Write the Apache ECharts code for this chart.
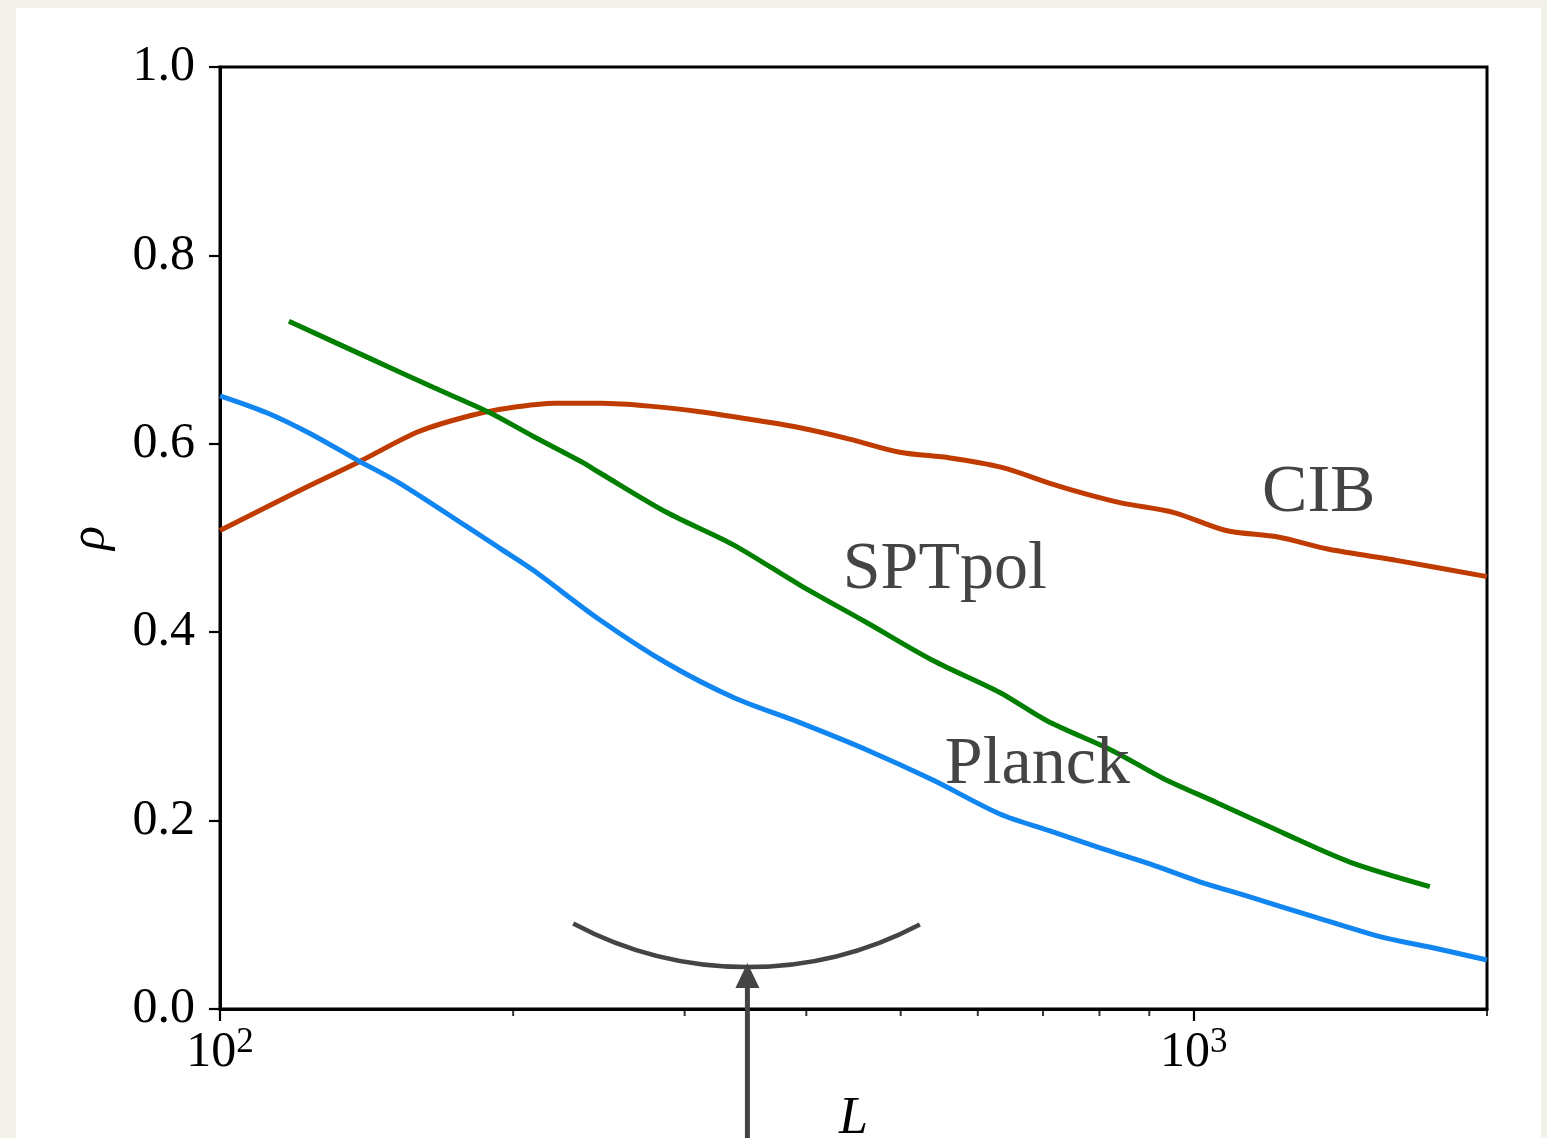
<!DOCTYPE html>
<html>
<head>
<meta charset="utf-8">
<script src="https://cdn.jsdelivr.net/npm/echarts@6/dist/echarts.min.js"></script>
<style>
html,body{margin:0;padding:0;background:#f3f0ea;}
#chart{width:1547px;height:1138px;}
</style>
</head>
<body>
<div id="chart"></div>
<script>
// ---------------- data ----------------
const cibL   = [100,121,139,160,181,198,221,246,276,311,350,394,443,499,562,635,717,779,844,954,1079,1220,1376,1620,2000];
const cibRho = [0.508,0.551,0.581,0.613,0.630,0.638,0.643,0.643,0.640,0.634,0.626,0.617,0.605,0.591,0.585,0.575,0.557,0.546,0.537,0.527,0.508,0.501,0.488,0.476,0.459];

const sptL   = [117.7,141.6,165.5,189.3,209.6,235.9,245.6,287.7,336.3,394.0,461.7,539.6,632.1,706.4,825.9,929.1,1055.9,1234.1,1446.0,1747.0];
const sptRho = [0.730,0.692,0.660,0.633,0.608,0.580,0.569,0.527,0.493,0.450,0.410,0.370,0.336,0.306,0.274,0.245,0.219,0.187,0.156,0.130];

const planckL   = [100,111.7,123.7,138.2,153.0,179.3,193.9,209.6,245.6,287.7,336.3,394.0,461.7,539.6,632.1,711.5,800.9,901.0,1014.3,1141.5,1337.5,1563.7,1759.4,2000];
const planckRho = [0.651,0.633,0.611,0.583,0.558,0.512,0.489,0.466,0.413,0.367,0.331,0.304,0.275,0.243,0.207,0.189,0.171,0.154,0.135,0.119,0.097,0.076,0.065,0.052];

const xMajorTicks = [100, 1000];
const xMinorTicks = [200,300,400,500,600,700,800,900,2000];
const yTicks = [0, 0.2, 0.4, 0.6, 0.8, 1.0];

const curveNames = ['CIB', 'SPTpol', 'Planck'];
// annotation anchors (data coordinates, text baseline-ish)
const textAnchorL   = [1175, 436, 555];
const textAnchorRho = [0.511, 0.430, 0.223];
const arcBottom = [348, 0.0445];
// ---------------------------------------------------------------

const FONT = 'Liberation Serif';
const zip = (a, b) => a.map((v, i) => [v, b[i]]);

const chart = echarts.init(document.getElementById('chart'), null, {renderer: 'canvas'});

const lineSeries = (name, L, R, color) => ({
  name, type: 'line', data: zip(L, R), showSymbol: false, symbol: 'none',
  smooth: 0.3, lineStyle: {color, width: 5}, z: 3, clip: true
});

const option = {
  animation: false,
  backgroundColor: 'transparent',
  grid: {left: 220, top: 67, right: 60, bottom: 129, show: true,
         outerBoundsMode: 'none', containLabel: false,
         borderColor: '#000', borderWidth: 3, backgroundColor: '#fff'},
  xAxis: {
    type: 'log', logBase: 10, min: 100, max: 2000,
    name: 'L', nameLocation: 'middle', nameGap: 84,
    nameTextStyle: {fontFamily: FONT, fontStyle: 'italic', fontSize: 52, color: '#000'},
    axisLine: {show: true, onZero: false, lineStyle: {color: '#000', width: 3}},
    axisTick: {show: true, length: 12, lineStyle: {color: '#000', width: 2.2}},
    splitLine: {show: false},
    minorTick: {show: false},
    axisLabel: {
      showMaxLabel: false, margin: 16, color: '#000', fontFamily: FONT, fontSize: 50,
      formatter: v => {
        const e = Math.round(Math.log10(v));
        if (xMajorTicks.indexOf(v) < 0 && Math.abs(v - Math.pow(10, e)) > 1e-6) return '';
        return '{b|10}{s|' + e + '}';
      },
      rich: {
        b: {fontFamily: FONT, fontSize: 50, color: '#000', lineHeight: 56},
        s: {fontFamily: FONT, fontSize: 35, color: '#000', verticalAlign: 'top', lineHeight: 34}
      }
    }
  },
  yAxis: {
    type: 'value', min: 0, max: 1, interval: 0.2,
    name: 'ρ', nameLocation: 'middle', nameGap: 104, nameRotate: 90,
    nameTextStyle: {fontFamily: FONT, fontStyle: 'italic', fontSize: 50, color: '#000'},
    axisLine: {show: true, lineStyle: {color: '#000', width: 3}},
    axisTick: {show: true, length: 11, lineStyle: {color: '#000', width: 2.2}},
    splitLine: {show: false},
    axisLabel: {margin: 25, color: '#000', fontFamily: FONT, fontSize: 50,
                formatter: v => v.toFixed(1)}
  },
  series: [
    lineSeries(curveNames[0], cibL, cibRho, '#bf3b00'),
    lineSeries(curveNames[1], sptL, sptRho, '#007f00'),
    lineSeries(curveNames[2], planckL, planckRho, '#1185f0'),
    {
      name: 'minorTicks', type: 'scatter', data: xMinorTicks.map(v => [v, 0]),
      symbol: 'rect', symbolSize: [2, 7], symbolOffset: [0, 3.5],
      itemStyle: {color: '#000'}, clip: false, silent: true, z: 5
    }
  ]
};
chart.setOption(option);

// annotations anchored to data coordinates
const px = (d) => chart.convertToPixel({gridIndex: 0}, d);
const g = [];
g.push({type: 'rect', z: -100, silent: true,
        shape: {x: 16, y: 8, width: 1525, height: 1140}, style: {fill: '#ffffff'}});
curveNames.forEach((n, i) => {
  const p = px([textAnchorL[i], textAnchorRho[i]]);
  g.push({type: 'text', x: p[0], y: p[1], z: 10, silent: true,
          style: {text: n, fill: '#444444', fontFamily: FONT, fontSize: 68,
                  align: 'left', verticalAlign: 'bottom'}});
});
const b = px(arcBottom);
const R = 370;
g.push({type: 'arc', z: 10, silent: true,
        shape: {cx: b[0], cy: b[1] - R, r: R, startAngle: 1.086, endAngle: 2.061, clockwise: true},
        style: {stroke: '#444444', lineWidth: 4.5, fill: null}});
g.push({type: 'line', z: 10, silent: true,
        shape: {x1: b[0], y1: b[1] + 18, x2: b[0], y2: 1140},
        style: {stroke: '#444444', lineWidth: 5}});
g.push({type: 'polygon', z: 10, silent: true,
        shape: {points: [[b[0], b[1] - 4], [b[0] - 12, b[1] + 21], [b[0] + 12, b[1] + 21]]},
        style: {fill: '#444444'}});
chart.setOption({graphic: g}, {replaceMerge: ['graphic']});
</script>
</body>
</html>
